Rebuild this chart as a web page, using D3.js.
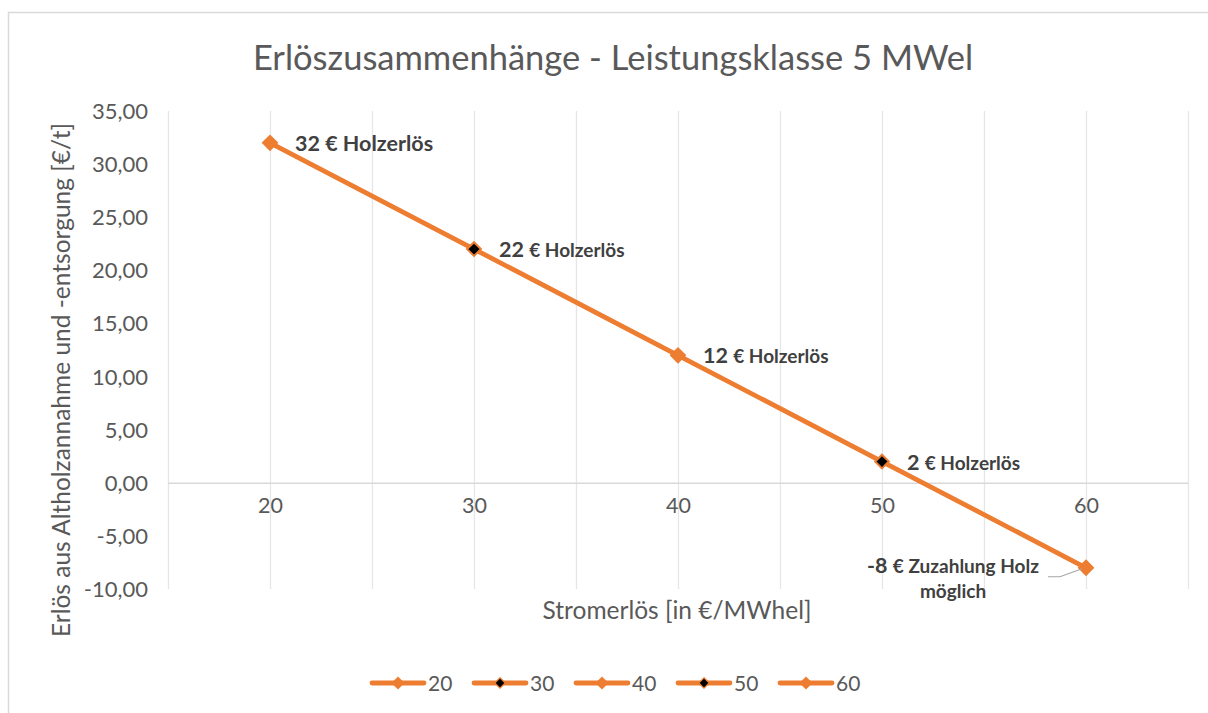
<!DOCTYPE html>
<html>
<head>
<meta charset="utf-8">
<script src="https://cdn.jsdelivr.net/npm/d3@7"></script>
<style>
    body { margin: 0; background: #fff; }
    text { font-family: Lato, "Open Sans", sans-serif; }
</style>
</head>
<body>
<div id="chart"></div>
<script>
// data
const categories = [20, 30, 40, 50, 60];
const values = [32, 22, 12, 2, -8];
const seriesNames = ["20", "30", "40", "50", "60"];
const yTicks = [-10, -5, 0, 5, 10, 15, 20, 25, 30, 35];
const labelNumbers = ["32", "22", "12", "2", "-8"];
const labelTexts = ["€ Holzerlös", "€ Holzerlös", "€ Holzerlös", "€ Holzerlös", "€ Zuzahlung Holz"];
const labelSecondLine = ["", "", "", "", "möglich"];

const width = 1208;
const height = 713;
const orange = "#ED7D31";
const grey = "#595959";

const svg = d3
    .select("#chart")
    .append("svg")
    .attr("width", width)
    .attr("height", height);

// chart border (runs past the right and bottom edge)
svg.append("rect")
    .attr("x", 8.5)
    .attr("y", 12.5)
    .attr("width", 1400)
    .attr("height", 1000)
    .attr("fill", "white")
    .attr("stroke", "#d9d9d9")
    .attr("stroke-width", 1.5);

const x = d3.scaleLinear().domain([15, 65]).range([168, 1188]);
const y = d3.scaleLinear().domain([-10, 35]).range([589, 111]);

// vertical gridlines every 5
const gridX = d3.range(15, 66, 5);
svg.append("g")
    .selectAll("line")
    .data(gridX)
    .enter()
    .append("line")
    .attr("x1", d => x(d) + 0.5)
    .attr("x2", d => x(d) + 0.5)
    .attr("y1", y(35))
    .attr("y2", y(-10))
    .attr("stroke", "#e6e6e6")
    .attr("stroke-width", 1.3);

// zero line
svg.append("line")
    .attr("x1", x(15))
    .attr("x2", x(65))
    .attr("y1", y(0) + 0.5)
    .attr("y2", y(0) + 0.5)
    .attr("stroke", "#d9d9d9")
    .attr("stroke-width", 1.5);

// y tick labels
const yAxis = d3.axisLeft(y)
    .tickValues(yTicks)
    .tickSize(0)
    .tickPadding(0)
    .tickFormat(d => d3.format(".2f")(d).replace(".", ",").replace("−", "-"));

const yAxisG = svg.append("g")
    .attr("transform", "translate(148,0)")
    .call(yAxis);
yAxisG.select(".domain").remove();
yAxisG.selectAll("text")
    .attr("fill", grey)
    .attr("dy", "0.34em")
    .style("font-size", "22px")
    .style("font-family", "Lato, sans-serif");

// x tick labels
const xAxis = d3.axisBottom(x)
    .tickValues(categories)
    .tickSize(0)
    .tickPadding(0)
    .tickFormat(d3.format("d"));

const xAxisG = svg.append("g")
    .attr("transform", "translate(0," + (y(0) + 30) + ")")
    .call(xAxis);
xAxisG.select(".domain").remove();
xAxisG.selectAll("text")
    .attr("fill", grey)
    .attr("dy", "0")
    .style("font-size", "21.5px")
    .style("font-family", "Lato, sans-serif");

// title
svg.append("text")
    .attr("x", 613)
    .attr("y", 70)
    .attr("text-anchor", "middle")
    .attr("fill", grey)
    .style("font-size", "34.5px")
    .text("Erlöszusammenhänge - Leistungsklasse 5 MWel");

// axis titles
svg.append("text")
    .attr("transform", "translate(70,380) rotate(-90)")
    .attr("text-anchor", "middle")
    .attr("fill", grey)
    .style("font-size", "24.5px")
    .text("Erlös aus Altholzannahme und -entsorgung [€/t]");

svg.append("text")
    .attr("x", 677)
    .attr("y", 619)
    .attr("text-anchor", "middle")
    .attr("fill", grey)
    .style("font-size", "24.5px")
    .text("Stromerlös [in €/MWhel]");

// line
const points = categories.map((c, i) => ({ c: c, v: values[i], i: i }));

const line = d3.line()
    .x(d => x(d.c))
    .y(d => y(d.v));

svg.append("path")
    .datum(points)
    .attr("d", line)
    .attr("fill", "none")
    .attr("stroke", orange)
    .attr("stroke-width", 4.8)
    .attr("stroke-linecap", "round");

const diamond = d3.symbol().type(d3.symbolDiamond2);

svg.append("g")
    .selectAll("path")
    .data(points)
    .enter()
    .append("path")
    .attr("transform", d => "translate(" + x(d.c) + "," + y(d.v) + ")")
    .attr("d", d => diamond.size(d.i % 2 ? 120 : 180)())
    .attr("fill", d => (d.i % 2 ? "#000" : orange))
    .attr("stroke", orange)
    .attr("stroke-width", d => (d.i % 2 ? 2 : 0));

// data labels
const labels = svg.append("g");
points.forEach(d => {
    const last = d.i === points.length - 1;
    if (!last) {
        const t = labels.append("text")
            .attr("x", x(d.c) + 25)
            .attr("y", y(d.v) + 8)
            .attr("fill", "#404040")
            .style("font-weight", "bold");
        t.append("tspan")
            .style("font-size", "21.5px")
            .text(labelNumbers[d.i] + " ");
        t.append("tspan")
            .style("font-size", d.i === 0 ? "21.5px" : "19px")
            .text(labelTexts[d.i]);
    } else {
        const cx = x(d.c) - 133;
        const t = labels.append("text")
            .attr("x", cx)
            .attr("y", y(d.v) + 5)
            .attr("text-anchor", "middle")
            .attr("fill", "#404040")
            .style("font-weight", "bold");
        t.append("tspan")
            .style("font-size", "21.5px")
            .text(labelNumbers[d.i] + " ");
        t.append("tspan")
            .style("font-size", "19px")
            .text(labelTexts[d.i]);
        labels.append("text")
            .attr("x", cx)
            .attr("y", y(d.v) + 30)
            .attr("text-anchor", "middle")
            .attr("fill", "#404040")
            .style("font-weight", "bold")
            .style("font-size", "19px")
            .text(labelSecondLine[d.i]);
        // leader line
        labels.append("path")
            .attr("d", "M" + (x(d.c) - 38) + "," + (y(d.v) + 9) +
                "L" + (x(d.c) - 26) + "," + (y(d.v) + 9) +
                "L" + (x(d.c) - 4) + "," + (y(d.v) + 1))
            .attr("fill", "none")
            .attr("stroke", "#a6a6a6")
            .attr("stroke-width", 1.2);
    }
});

// legend
const legend = svg.append("g")
    .selectAll("g")
    .data(seriesNames)
    .enter()
    .append("g")
    .attr("transform", (d, i) => "translate(" + (370 + i * 102) + ",683)");

legend.append("line")
    .attr("x1", 2)
    .attr("x2", 54)
    .attr("stroke", orange)
    .attr("stroke-width", 4.8)
    .attr("stroke-linecap", "round");

legend.append("path")
    .attr("transform", "translate(28,0)")
    .attr("d", (d, i) => diamond.size(i % 2 ? 70 : 110)())
    .attr("fill", (d, i) => (i % 2 ? "#000" : orange))
    .attr("stroke", orange)
    .attr("stroke-width", (d, i) => (i % 2 ? 1.2 : 0));

legend.append("text")
    .attr("x", 58)
    .attr("y", 7.5)
    .attr("fill", grey)
    .style("font-size", "21px")
    .text(d => d);
</script>
</body>
</html>
